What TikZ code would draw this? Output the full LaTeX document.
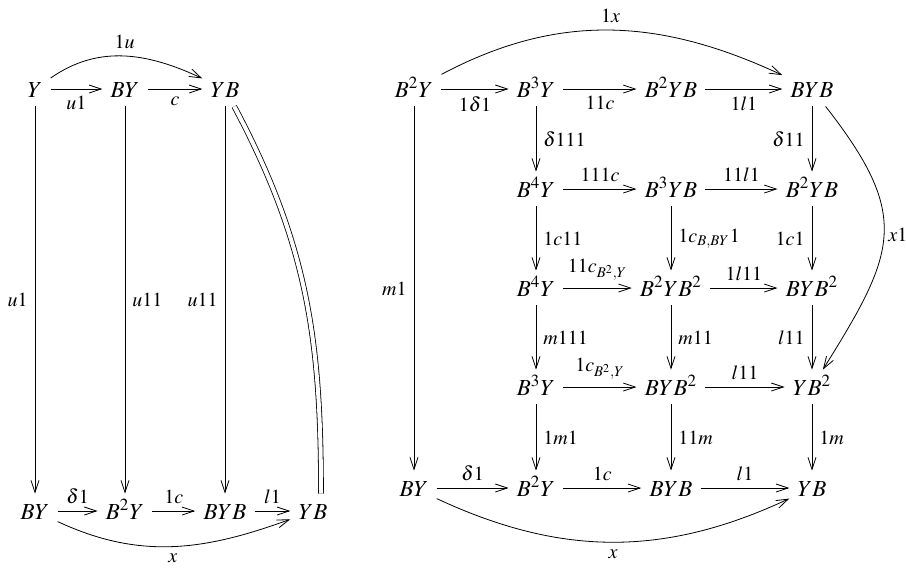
\documentclass[tikz,border=0pt]{standalone}
\usepackage{mathptmx}
\usetikzlibrary{arrows.meta}

\begin{document}
\begin{tikzpicture}[x=0.5pt, y=-0.5pt,
    ob/.style={inner sep=4pt, font=\fontsize{11.5}{14}\selectfont, text height=8.5pt, text depth=0.5pt},
    lb/.style={inner sep=3.5pt, font=\fontsize{10}{12}\selectfont},
    eq/.style={-, double, double distance=2pt},
    every path/.style={-{Straight Barb[length=6pt,width=4pt]}}]
    \useasboundingbox (0,0) rectangle (906,569);
    % left diagram
    \node[ob] (y) at (35,89) {$Y$};
    \node[ob] (by) at (125,89) {$BY$};
    \node[ob] (yb) at (225,89) {$YB$};
    \node[ob] (by1) at (35,511) {$BY$};
    \node[ob] (bby) at (125,511) {$B^2Y$};
    \node[ob] (byb) at (225,511) {$BYB$};
    \node[ob] (yb1) at (313,511) {$YB$};
    \draw (y) -- node[lb, below] {$u1$} (by);
    \draw (by) -- node[lb, below] {$c$} (yb);
    \draw (y) to[out=35, in=155] node[lb, above] {$1u$} (yb);
    \draw (y) -- node[lb, left] {$u1$} (by1);
    \draw (by) -- node[lb, right] {$u11$} (bby);
    \draw (yb) -- node[lb, left] {$u11$} (byb);
    \draw[eq] (yb) to[out=-62, in=90] ([xshift=4pt]yb1.north);
    \draw (by1) -- node[lb, above] {$\delta1$} (bby);
    \draw (bby) -- node[lb, above] {$1c$} (byb);
    \draw (byb) -- node[lb, above] {$l1$} (yb1);
    \draw (by1) to[out=-25, in=-160] node[lb, below] {$x$} (yb1);
    % right diagram
    \node[ob] (a1) at (414,89) {$B^2Y$};
    \node[ob] (a2) at (536,89) {$B^3Y$};
    \node[ob] (a3) at (671,89) {$B^2YB$};
    \node[ob] (a4) at (812,89) {$BYB$};
    \node[ob] (b2) at (536,189) {$B^4Y$};
    \node[ob] (b3) at (671,189) {$B^3YB$};
    \node[ob] (b4) at (812,189) {$B^2YB$};
    \node[ob] (c2) at (536,288) {$B^4Y$};
    \node[ob] (c3) at (671,288) {$B^2YB^2$};
    \node[ob] (c4) at (812,288) {$BYB^2$};
    \node[ob] (d2) at (536,387) {$B^3Y$};
    \node[ob] (d3) at (671,387) {$BYB^2$};
    \node[ob] (d4) at (812,387) {$YB^2$};
    \node[ob] (e1) at (414,488) {$BY$};
    \node[ob] (e2) at (536,488) {$B^2Y$};
    \node[ob] (e3) at (671,488) {$BYB$};
    \node[ob] (e4) at (812,488) {$YB$};
    \draw (a1) -- node[lb, below] {$1\delta1$} (a2);
    \draw (a2) -- node[lb, below] {$11c$} (a3);
    \draw (a3) -- node[lb, below] {$1l1$} (a4);
    \draw (a1) to[out=28, in=155] node[lb, above] {$1x$} (a4);
    \draw (a2) -- node[lb, right] {$\delta111$} (b2);
    \draw (a4) -- node[lb, left] {$\delta11$} (b4);
    \draw (a4) to[out=-52, in=58, looseness=1.35] node[lb, right, inner sep=2pt] {$x1$} (d4);
    \draw (a1) -- node[lb, left] {$m1$} (e1);
    \draw (b2) -- node[lb, above] {$111c$} (b3);
    \draw (b3) -- node[lb, above] {$11l1$} (b4);
    \draw (b2) -- node[lb, right] {$1c11$} (c2);
    \draw (b3) -- node[lb, right] {$1c_{B,BY}1$} (c3);
    \draw (b4) -- node[lb, left] {$1c1$} (c4);
    \draw (c2) -- node[lb, above] {$11c_{B^2,Y}$} (c3);
    \draw (c3) -- node[lb, above] {$1l11$} (c4);
    \draw (c2) -- node[lb, right] {$m111$} (d2);
    \draw (c3) -- node[lb, right] {$m11$} (d3);
    \draw (c4) -- node[lb, left] {$l11$} (d4);
    \draw (d2) -- node[lb, above] {$1c_{B^2,Y}$} (d3);
    \draw (d3) -- node[lb, above] {$l11$} (d4);
    \draw (d2) -- node[lb, right] {$1m1$} (e2);
    \draw (d3) -- node[lb, right] {$11m$} (e3);
    \draw (d4) -- node[lb, right] {$1m$} (e4);
    \draw (e1) -- node[lb, above] {$\delta1$} (e2);
    \draw (e2) -- node[lb, above] {$1c$} (e3);
    \draw (e3) -- node[lb, above] {$l1$} (e4);
    \draw (e1) to[out=-25, in=-155] node[lb, below] {$x$} (e4);
\end{tikzpicture}
\end{document}
